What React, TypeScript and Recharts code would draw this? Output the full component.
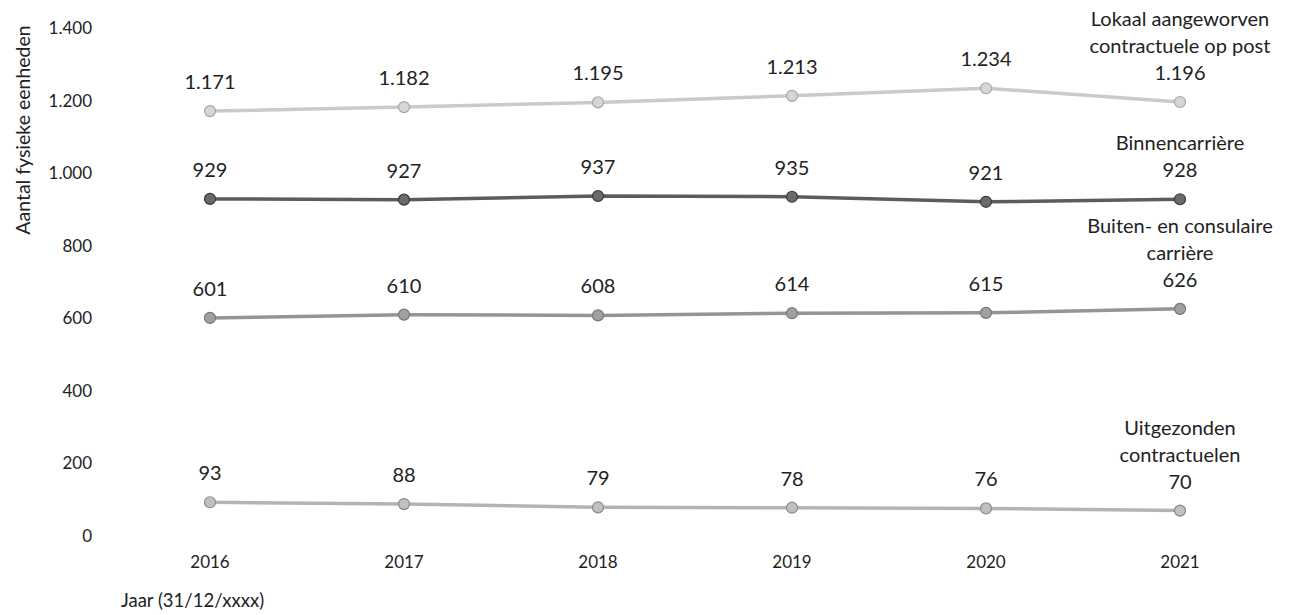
import { LineChart, Line, XAxis, YAxis, LabelList, Label } from 'recharts';

const years = ['2016', '2017', '2018', '2019', '2020', '2021'];
const lokaal = [1171, 1182, 1195, 1213, 1234, 1196];
const binnen = [929, 927, 937, 935, 921, 928];
const buiten = [601, 610, 608, 614, 615, 626];
const uitgezonden = [93, 88, 79, 78, 76, 70];
const yTicks = [0, 200, 400, 600, 800, 1000, 1200, 1400];

const FONT = 'Lato, "Open Sans", sans-serif';
const TEXT = '#222';

const data = years.map((year, i) => ({
  year,
  lokaal: lokaal[i],
  binnen: binnen[i],
  buiten: buiten[i],
  uitgezonden: uitgezonden[i],
}));

const series = [
  { key: 'lokaal', name: ['Lokaal aangeworven', 'contractuele op post'], line: '#cacaca', fill: '#d6d6d6', edge: '#a8a8a8' },
  { key: 'binnen', name: ['Binnencarrière'], line: '#5c5c5c', fill: '#6a6a6a', edge: '#3a3a3a' },
  { key: 'buiten', name: ['Buiten- en consulaire', 'carrière'], line: '#959595', fill: '#a0a0a0', edge: '#777' },
  { key: 'uitgezonden', name: ['Uitgezonden', 'contractuelen'], line: '#b4b4b4', fill: '#c0c0c0', edge: '#8a8a8a' },
];

// Dutch thousands separator: 1171 -> 1.171
const fmt = (v: number) => String(v).replace(/\B(?=(\d{3})+(?!\d))/g, '.');

const makeLabel = (nameLines: string[]) => (props: any) => {
  const { x, y, value, index } = props;
  const isLast = index === years.length - 1;
  const lines = isLast ? [...nameLines, fmt(value)] : [fmt(value)];
  const base = y - 22;
  return (
    <g>
      {lines.map((t, i) => {
        // keep the wide series names inside the chart on the right
        const w = t.length * 8.3;
        let cx = x;
        if (cx + w / 2 > 1274) cx = 1274 - w / 2;
        return (
          <text
            key={i}
            x={cx}
            y={base - (lines.length - 1 - i) * 27}
            textAnchor="middle"
            fontSize={20}
            fontFamily={FONT}
            fill={TEXT}
          >
            {t}
          </text>
        );
      })}
    </g>
  );
};

export default function App() {
  return (
    <div style={{ position: 'absolute', left: 0, top: 0, background: '#fff' }}>
      <LineChart
        width={1291}
        height={615}
        data={data}
        margin={{ top: 28, right: 14, bottom: 0, left: 0 }}
      >
        <XAxis
          dataKey="year"
          axisLine={false}
          tickLine={false}
          tickSize={0}
          tickMargin={20}
          height={79}
          padding={{ left: 97, right: 97 }}
          tick={{ fontSize: 17, fontFamily: FONT, fill: TEXT }}
        >
          <Label
            value="Jaar (31/12/xxxx)"
            position="insideBottomLeft"
            offset={8}
            style={{ fontSize: 18.5, fontFamily: FONT, fill: TEXT }}
          />
        </XAxis>
        <YAxis
          domain={[0, 1400]}
          ticks={yTicks}
          axisLine={false}
          tickLine={false}
          tickSize={0}
          tickMargin={21}
          width={113}
          tickFormatter={fmt}
          tick={{ fontSize: 17, fontFamily: FONT, fill: TEXT }}
        >
          <Label
            content={() => (
              <text
                x={30}
                y={130}
                transform="rotate(-90 30 130)"
                textAnchor="middle"
                fontSize={19.5}
                fontFamily={FONT}
                fill={TEXT}
              >
                Aantal fysieke eenheden
              </text>
            )}
          />
        </YAxis>
        {series.map((s) => (
          <Line
            key={s.key}
            dataKey={s.key}
            type="linear"
            stroke={s.line}
            strokeWidth={3.5}
            dot={{ r: 5.5, fill: s.fill, stroke: s.edge, strokeWidth: 1.2 }}
            isAnimationActive={false}
          >
            <LabelList dataKey={s.key} content={makeLabel(s.name)} />
          </Line>
        ))}
      </LineChart>
    </div>
  );
}
